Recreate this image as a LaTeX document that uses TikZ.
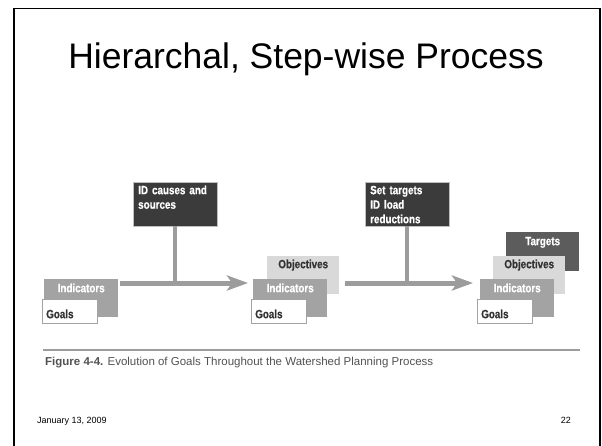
\documentclass[tikz,border=0pt]{standalone}
\usepackage{fontspec}
\setmainfont{Liberation Sans}
\newfontfamily\condfont{Liberation Sans}[FakeStretch=0.82,BoldFeatures={FakeBold=0.6}]
\usetikzlibrary{arrows.meta}
\definecolor{procgray}{HTML}{3B3B3B}
\definecolor{tgtgray}{HTML}{5C5C5C}
\definecolor{indgray}{HTML}{A3A3A3}
\definecolor{objgray}{HTML}{D9D9D9}
\definecolor{linegray}{HTML}{9C9C9C}
\definecolor{txtgray}{HTML}{333333}

\begin{document}
\begin{tikzpicture}[x=1pt,y=-1pt,
    lvl/.style={rectangle,anchor=north west,inner xsep=0pt,inner ysep=0pt,
      font=\condfont\bfseries\fontsize{12}{14}\selectfont},
    goalbox/.style={lvl,draw=indgray,fill=white,text=txtgray,text width=47pt,
      inner xsep=4pt,align=left,text height=19pt,text depth=5pt},
    indbox/.style={lvl,fill=indgray,text=white,minimum width=74pt,text height=13pt,text depth=25pt},
    objbox/.style={lvl,fill=objgray,text=txtgray,minimum width=72pt,text height=12pt,text depth=26pt},
    tgtbox/.style={lvl,fill=tgtgray,text=white,minimum width=73pt,text height=13pt,text depth=26pt},
    procbox/.style={lvl,draw=gray!50,fill=procgray,text=white,text width=74pt,inner xsep=5pt,
      align=left,text height=12pt,text depth=32pt,
      font=\condfont\bfseries\fontsize{12}{14.5}\selectfont},
    flow/.style={draw=linegray,line width=5pt,-{Stealth[length=21pt,width=15pt,inset=5pt]}},
    stem/.style={draw=linegray,line width=4.5pt}]
  \useasboundingbox (0,0) rectangle (602,445);
  % slide frame
  \draw[line width=1.6pt] (14,450) -- (14,8.5) -- (600,8.5) -- (600,450);
  \node[anchor=base,font=\fontsize{35.5}{40}\selectfont] (title) at (306,68) {Hierarchal, Step-wise Process};

  % process steps
  \node[procbox] (p1) at (133,182) {ID causes and\\sources};
  \node[procbox] (p2) at (365,182) {Set targets\\ID load\\reductions};

  % stage 1
  \node[indbox] (ind1) at (44,279) {Indicators};
  \node[goalbox] (goal1) at (42,299) {Goals};

  % stage 2
  \node[objbox] (obj2) at (267,256) {Objectives};
  \node[indbox] (ind2) at (253,279) {Indicators};
  \node[goalbox] (goal2) at (251,299) {Goals};

  % stage 3
  \node[tgtbox] (tgt3) at (506,232) {Targets};
  \node[objbox] (obj3) at (493,256) {Objectives};
  \node[indbox] (ind3) at (480,279) {Indicators};
  \node[goalbox] (goal3) at (477,299) {Goals};

  % connectors
  \coordinate (j1) at ([yshift=-4pt]ind1.north east);
  \coordinate (j2) at (j1 -| obj2.east);
  \draw[stem] (p1.south) -- (p1.south |- j1);
  \draw[stem] (p2.south) -- (p2.south |- j2);
  \draw[flow,shorten <=2pt,shorten >=5pt] (j1) -- (j1 -| ind2.west);
  \draw[flow,shorten <=6pt,shorten >=7pt] (j2) -- (j2 -| ind3.west);

  % caption
  \draw[linegray,line width=1.2pt] (43,350) -- (580,350);
  \node[anchor=base west,inner sep=0pt,text=txtgray!85,font=\fontsize{11.5}{13}\selectfont] (cap) at (45,365)
    {\textbf{Figure 4-4.} Evolution of Goals Throughout the Watershed Planning Process};

  % footer
  \node[anchor=base west,inner sep=0pt,font=\fontsize{9}{11}\selectfont] (date) at (37,423) {January 13, 2009};
  \node[anchor=base east,inner sep=0pt,font=\fontsize{9}{11}\selectfont] (page) at (571,423) {22};
\end{tikzpicture}
\end{document}
